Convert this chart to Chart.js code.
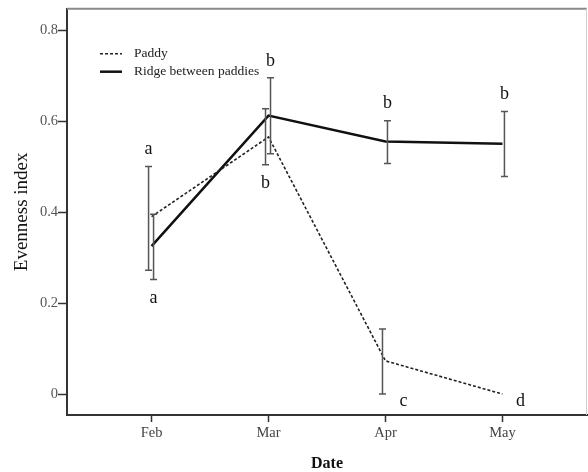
<!DOCTYPE html>
<html>
<head>
<meta charset="utf-8">
<script src="https://cdn.jsdelivr.net/npm/chart.js@4/dist/chart.umd.min.js"></script>
<style>
  html, body { margin: 0; padding: 0; background: #fff; }
  #wrap { width: 588px; height: 472px; position: relative; }
</style>
</head>
<body>
<div id="wrap"><canvas id="evenChart"></canvas></div>
<script>
// months on the x axis
const months = ["Feb", "Mar", "Apr", "May"];
const yTicks = [0, 0.2, 0.4, 0.6, 0.8];

// Paddy (dashed)
const paddyMean = [0.39, 0.565, 0.073, 0.0];
const paddyLow = [0.272, 0.504, 0.0, null];
const paddyHigh = [0.50, 0.627, 0.143, null];
const paddyLetters = ["a", "b", "c", "d"];
const paddyLetterSide = ["above", "below", "right", "right"];

// Ridge between paddies (solid)
const ridgeMean = [0.325, 0.612, 0.555, 0.550];
const ridgeLow = [0.252, 0.528, 0.507, 0.478];
const ridgeHigh = [0.395, 0.695, 0.601, 0.621];
const ridgeLetters = ["a", "b", "b", "b"];
const ridgeLetterSide = ["below", "above", "above", "above"];

const serif = "'Liberation Serif', 'Times New Roman', serif";

function toPoints(vals) {
  return vals.map((v, i) => ({ x: i + 1, y: v }));
}

// error bars + significance letters, drawn after the lines
const ErrorBars = {
  id: "errorBars",
  afterDatasetsDraw(chart) {
    const { ctx, scales } = chart;
    const xs = scales.x, ys = scales.y;
    const groups = [
      { low: paddyLow, high: paddyHigh, mean: paddyMean, letters: paddyLetters, side: paddyLetterSide, dx: -3 },
      { low: ridgeLow, high: ridgeHigh, mean: ridgeMean, letters: ridgeLetters, side: ridgeLetterSide, dx: 2 }
    ];
    ctx.save();
    ctx.strokeStyle = "#555";
    ctx.lineWidth = 1.5;
    groups.forEach(g => {
      g.mean.forEach((m, i) => {
        const x = xs.getPixelForValue(i + 1) + g.dx;
        if (g.low[i] == null) return;
        const yl = ys.getPixelForValue(g.low[i]);
        const yh = ys.getPixelForValue(g.high[i]);
        ctx.beginPath();
        ctx.moveTo(x, yl); ctx.lineTo(x, yh);
        ctx.moveTo(x - 3.5, yl); ctx.lineTo(x + 3.5, yl);
        ctx.moveTo(x - 3.5, yh); ctx.lineTo(x + 3.5, yh);
        ctx.stroke();
      });
    });

    ctx.fillStyle = "#111";
    ctx.font = "18px " + serif;
    ctx.textAlign = "center";
    ctx.textBaseline = "middle";
    groups.forEach(g => {
      g.letters.forEach((t, i) => {
        const x = xs.getPixelForValue(i + 1) + g.dx;
        const lo = g.low[i] == null ? g.mean[i] : g.low[i];
        const hi = g.high[i] == null ? g.mean[i] : g.high[i];
        let px = x, py;
        if (g.side[i] === "above") py = ys.getPixelForValue(hi) - 17;
        else if (g.side[i] === "below") py = ys.getPixelForValue(lo) + 19;
        else { px = x + 21; py = ys.getPixelForValue(lo) + 7; }
        ctx.fillText(t, px, py);
      });
    });
    ctx.restore();
  }
};

// frame on top/right and the inset legend
const FrameLegend = {
  id: "frameLegend",
  afterDraw(chart) {
    const { ctx, chartArea: a } = chart;
    ctx.save();
    ctx.strokeStyle = "#8a8a8a";
    ctx.lineWidth = 2;
    ctx.beginPath();
    ctx.moveTo(a.left, a.top); ctx.lineTo(a.right, a.top);
    ctx.stroke();
    ctx.strokeStyle = "#d0d0d0";
    ctx.lineWidth = 1;
    ctx.beginPath();
    ctx.moveTo(a.right - 0.5, a.top); ctx.lineTo(a.right - 0.5, a.bottom);
    ctx.stroke();

    const lx = a.left + 33, ly = a.top + 45;
    chart.data.datasets.forEach((ds, i) => {
      const y = ly + i * 18;
      ctx.strokeStyle = ds.borderColor;
      ctx.lineWidth = ds.borderWidth;
      ctx.setLineDash(ds.borderDash || []);
      ctx.beginPath();
      ctx.moveTo(lx, y); ctx.lineTo(lx + 22, y);
      ctx.stroke();
      ctx.setLineDash([]);
      ctx.fillStyle = "#222";
      ctx.font = "13.5px " + serif;
      ctx.textAlign = "left";
      ctx.textBaseline = "middle";
      ctx.fillText(ds.label, lx + 34, y);
    });
    ctx.restore();
  }
};

new Chart(document.getElementById("evenChart"), {
  type: "line",
  data: {
    datasets: [
      {
        label: "Paddy",
        data: toPoints(paddyMean),
        borderColor: "#222",
        borderWidth: 1.6,
        borderDash: [3, 2],
        pointRadius: 0,
        tension: 0
      },
      {
        label: "Ridge between paddies",
        data: toPoints(ridgeMean),
        borderColor: "#111",
        borderWidth: 2.5,
        pointRadius: 0,
        tension: 0
      }
    ]
  },
  options: {
    responsive: true,
    maintainAspectRatio: false,
    animation: false,
    layout: { padding: { top: 8, right: 1, left: 0, bottom: 0 } },
    plugins: {
      legend: { display: false },
      tooltip: { enabled: false }
    },
    scales: {
      x: {
        type: "linear",
        min: 0.277,
        max: 4.723,
        afterBuildTicks: (s) => { s.ticks = months.map((_, i) => ({ value: i + 1 })); },
        afterFit: (s) => { s.height = 57; },
        ticks: {
          callback: (v) => months[v - 1] ?? "",
          color: "#444",
          font: { family: serif, size: 14.5 },
          padding: 2,
          maxRotation: 0
        },
        grid: { drawOnChartArea: false, drawTicks: true, tickLength: 7, color: "#333", tickWidth: 1.5 },
        border: { display: true, color: "#333", width: 2 },
        title: {
          display: true,
          text: "Date",
          color: "#111",
          font: { family: serif, size: 16, weight: "bold" },
          padding: { top: 0, bottom: -1.5 }
        }
      },
      y: {
        min: -0.046,
        max: 0.847,
        afterBuildTicks: (s) => { s.ticks = yTicks.map(v => ({ value: v })); },
        afterFit: (s) => { s.width = 67; },
        ticks: {
          callback: (v) => String(v),
          color: "#555",
          font: { family: serif, size: 14.5 },
          padding: 0
        },
        grid: { drawOnChartArea: false, drawTicks: true, tickLength: 9, color: "#333", tickWidth: 1.5 },
        border: { display: true, color: "#333", width: 2 },
        title: {
          display: true,
          text: "Evenness index",
          color: "#111",
          font: { family: serif, size: 19 },
          padding: { top: 10.6, bottom: 0 }
        }
      }
    }
  },
  plugins: [ErrorBars, FrameLegend]
});
</script>
</body>
</html>
